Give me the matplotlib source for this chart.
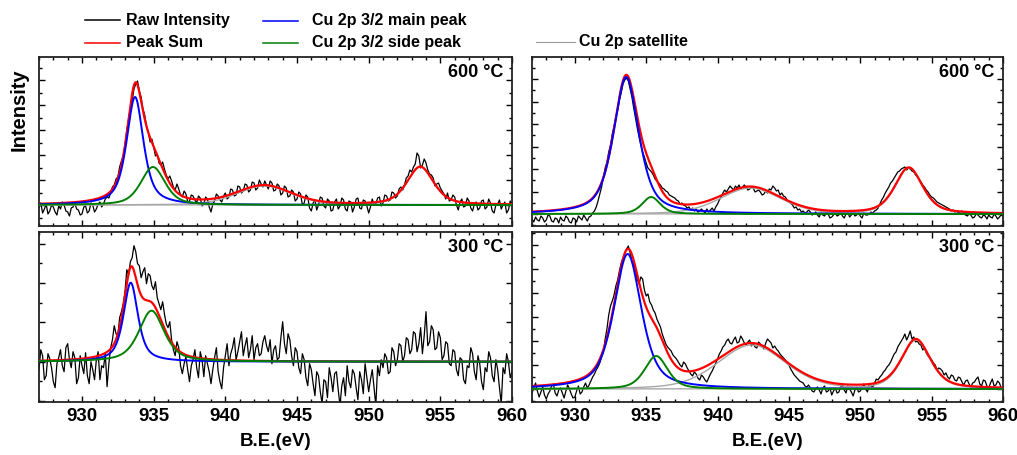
import numpy as np
import matplotlib
matplotlib.use("Agg")
import matplotlib.pyplot as plt
from matplotlib.lines import Line2D
from matplotlib.ticker import MultipleLocator

plt.rcParams["font.family"] = ["Liberation Sans", "DejaVu Sans"]
plt.rcParams["font.weight"] = "bold"

# ---------------------------------------------------------------------------
# Binding-energy grid (eV) shared by all spectra
# ---------------------------------------------------------------------------
BE_START, BE_STOP, BE_STEP = 927.0, 960.0, 0.125

# Raw Cu 2p intensities (a.u., background subtracted), one row per eV
raw_a600 = [
    -3, 2, -8, -4, 1, -9, -6, 0,          -2, -7, -10, -1, -4, 3, 0, -6,
    -7, -11, -3, -2, 2, -4, -5, -10,      -9, -2, -1, -8, -6, 2, 0, -7,
    -4, 1, 3, -2, 1, 6, 8, 7,             12, 18, 20, 26, 28, 38, 44, 49,
    60, 75, 86, 97, 104, 116, 121, 124,   114, 108, 96, 90, 79, 73, 63, 66,
    58, 49, 51, 42, 40, 43, 36, 30,       26, 29, 24, 18, 15, 21, 16, 10,
    8, 14, 11, 3, 4, 10, 9, 5,            2, 9, 7, -1, 1, 8, 6, -2,
    -7, 1, 4, 11, 9, 5, 3, 9,             12, 6, 8, 16, 15, 9, 10, 19,
    18, 12, 14, 21, 20, 13, 15, 23,       22, 15, 17, 25, 21, 18, 24, 20,
    16, 24, 22, 14, 15, 21, 19, 10,       12, 19, 17, 8, 9, 15, 13, 4,
    6, 13, 11, 0, 2, 10, 8, -3,           -6, 2, 5, -5, 0, 8, 7, -1,
    -3, 6, 4, -6, -5, 3, 6, -4,           -1, 7, 5, -4, -6, 4, 3, -7,
    -2, 6, 7, -3, -4, 5, 4, -1,           -8, -2, 6, 0, 1, 7, 8, -1,
    2, 10, 9, 4, 5, 13, 12, 7,            9, 16, 18, 15, 20, 27, 29, 35,
    33, 38, 41, 52, 49, 37, 40, 46,       42, 35, 31, 30, 27, 19, 21, 22,
    17, 14, 11, 6, 12, 4, 5, 10,          8, 0, -5, 3, 6, -2, -1, 7,
    4, -3, -6, 1, 3, -5, -3, 4,           5, -4, -2, 6, 2, -6, -8, 0,
    1, 5, -4, 0, 3, -8, -5, 4,            0,
]
raw_a300 = [
    -8, 12, 6, -18, -14, 8, 3, -6,        -20, -26, -2, 4, 12, -4, -10, 14,
    18, 2, -6, 10, 4, -22, -16, 6,        -4, -12, 9, -14, -22, 0, -8, -18,
    2, 10, -18, -4, -6, 8, -25, -2,       14, 22, 36, 28, 26, 44, 50, 58,
    70, 92, 87, 100, 104, 116, 110, 98,   96, 84, 90, 94, 78, 88, 86, 76,
    72, 80, 64, 58, 52, 60, 48, 38,       34, 40, 22, 12, 6, 20, 14, -4,
    -12, -2, 5, -8, -20, -4, 2, 12,       -6, -16, 10, 2, -15, 6, -2, -10,
    -22, -8, 4, 14, -10, -20, -27, -6,    6, 18, -4, 8, 14, 24, 2, 10,
    20, 30, 6, 16, 24, 4, 12, 26,         2, 14, 18, 6, 8, 20, 26, 16,
    10, 22, -2, 12, 16, 2, 4, 24,         40, 18, 8, 28, 22, 6, -4, 14,
    10, -6, -12, 8, 2, -16, -24, -2,      -8, -22, -34, -10, -14, -30, -42, -18,
    -20, -36, -6, -16, -30, -12, -10, -28, -44, -24, -16, -34, -4, -20, -26, -8,
    -12, -26, -38, -10, -18, -32, -2, -16, -30, -18, -8, -26, -44, -4, -14, 2,
    -6, 8, 4, -12, -10, 14, 10, -4,       2, 18, 16, 0, 6, 24, 22, 8,
    12, 30, 28, 10, 18, 34, 8, 26,        50, 16, 20, 36, 32, 12, 14, 30,
    24, 2, 6, 20, 18, -2, -4, 12,         10, -8, -14, 4, 2, -18, -22, -4,
    -6, 14, 8, -10, -18, 6, -2, -20,      -28, -6, -10, 10, 4, -14, -20, 2,
    -8, -26, -42, -6, -12, 8, 0, -16,     -10,
]
raw_b600 = [
    -5, -8, -3, -6, -7, -2, -4, -8,       -6, -1, -2, -7, -8, -4, -5, -9,
    -3, -6, -7, -2, -4, -8, -9, -4,       -5, -8, -2, -4, -6, -1, -4, -7,
    -3, -2, 1, 3, 7, 13, 20, 27,          37, 46, 52, 62, 69, 80, 88, 97,
    104, 114, 121, 130, 134, 136, 133, 125, 117, 106, 96, 86, 77, 69, 62, 57,
    51, 46, 44, 42, 39, 35, 33, 31,       29, 26, 25, 23, 22, 19, 18, 17,
    16, 14, 13, 10, 11, 9, 8, 6,          7, 4, 6, 3, 5, 2, 3, 5,
    3, 1, 5, 2, 4, 6, 3, 7,               10, 14, 17, 21, 24, 22, 25, 28,
    26, 24, 28, 26, 29, 25, 27, 29,       27, 24, 25, 27, 26, 22, 23, 24,
    22, 19, 20, 23, 21, 25, 24, 28,       26, 23, 24, 19, 21, 18, 17, 14,
    12, 11, 9, 6, 7, 4, 5, 2,             3, 1, 2, 4, 2, -1, 0, 2,
    -1, -3, 1, -1, -2, 1, 0, -4,          -3, -1, 1, -2, -1, 2, -2, -4,
    0, 2, -3, -1, 1, -2, -1, 1,           -2, -4, 1, -1, -1, 0, 2, 1,
    3, 4, 6, 10, 14, 17, 21, 24,          27, 31, 33, 36, 39, 42, 43, 45,
    46, 47, 44, 46, 45, 43, 42, 39,       37, 35, 32, 29, 27, 24, 22, 19,
    17, 16, 14, 12, 11, 10, 9, 8,         7, 6, 5, 3, 4, 2, 3, 1,
    2, 3, 0, -1, -2, 0, -1, -4,           -3, 0, -1, -3, -4, -1, -2, -5,
    -1, -3, -4, 0, -2, -5, -3, -1,        -2,
]
raw_b300 = [
    -4, 1, 6, -2, -8, -3, 2, -6,          -10, -5, -2, 3, 5, -4, -7, -1,
    1, -4, -9, -2, 4, 0, -5, -9,          -8, -2, 3, -5, -3, 2, 6, 1,
    4, 8, 12, 15, 19, 22, 26, 32,         37, 50, 60, 74, 83, 88, 94, 103,
    109, 118, 126, 131, 136, 140, 143, 136, 128, 124, 120, 110, 105, 112, 110, 99,
    93, 95, 87, 84, 79, 76, 70, 66,       62, 55, 50, 45, 42, 40, 38, 34,
    32, 30, 27, 24, 22, 27, 25, 21,       18, 15, 13, 17, 15, 11, 9, 14,
    12, 9, 7, 11, 15, 18, 22, 26,         30, 35, 38, 42, 44, 48, 50, 46,
    45, 49, 52, 46, 47, 53, 50, 46,       44, 47, 49, 43, 46, 42, 41, 47,
    45, 43, 40, 46, 50, 48, 46, 41,       43, 40, 38, 35, 33, 31, 29, 26,
    24, 20, 17, 14, 12, 10, 8, 7,         6, 3, 2, 4, 1, -2, -3, 0,
    2, -1, -5, 1, 3, -3, -2, 1,           -6, -2, 1, -4, -3, 2, 4, -1,
    -4, 3, 0, -3, -7, -1, 2, -3,          -2, 1, 5, 0, -3, 4, 3, 2,
    6, 10, 9, 12, 14, 17, 19, 22,         24, 27, 31, 35, 37, 42, 45, 48,
    51, 55, 49, 53, 58, 50, 52, 47,       48, 45, 44, 39, 41, 36, 33, 31,
    29, 26, 24, 19, 21, 20, 18, 14,       16, 12, 10, 14, 13, 9, 8, 12,
    11, 7, 4, 8, 9, 5, 2, 6,              7, 10, 12, 5, 3, 9, 8, 3,
    1, 6, 10, 3, 4, 8, 6, 1,              2,
]

# Fitted pseudo-Voigt components: (centre eV, height, FWHM eV, Lorentzian fraction)
main_a600 = (933.7, 108, 1.4, 0.7)
side_a600 = (934.95, 38, 2.0, 0.5)
sat_a600 = [(942.7, 19, 4.5, 0.3), (953.6, 38, 2.2, 0.5)]

main_a300 = (933.4, 79, 1.2, 0.7)
side_a300 = (934.85, 51, 2.1, 0.6)
sat_a300 = []

main_b600 = (933.6, 137, 2.1, 0.6)
side_b600 = (935.35, 17, 1.5, 0.5)
sat_b600 = [(942.3, 26, 5.0, 0.3), (953.4, 46, 2.3, 0.5)]

main_b300 = (933.7, 135, 2.3, 0.6)
side_b300 = (935.7, 33, 1.9, 0.5)
sat_b300 = [(942.4, 44, 5.6, 0.3), (953.9, 49, 2.4, 0.5)]

temperatures = ["600 °C", "300 °C"]
legend_labels = ["Raw Intensity", "Peak Sum", "Cu 2p 3/2 main peak",
                 "Cu 2p 3/2 side peak", "Cu 2p satellite"]

C_RAW, C_SUM, C_MAIN, C_SIDE, C_SAT = "black", "#ff0000", "#0000ff", "#008000", "#a8a8a8"


def pseudo_voigt(x, peak):
    centre, height, fwhm, eta = peak
    u = (x - centre) / (fwhm / 2.0)
    return height * (eta / (1.0 + u ** 2) + (1.0 - eta) * np.exp(-np.log(2.0) * u ** 2))


energy = np.arange(BE_START, BE_STOP + BE_STEP / 2, BE_STEP)
fine = np.linspace(BE_START, BE_STOP, 1200)

W, H = 1017, 455
fig = plt.figure(figsize=(W / 100, H / 100), dpi=100)


def frac_box(left, top, right, bottom):
    return [left / W, 1 - bottom / H, (right - left) / W, (bottom - top) / H]


panels = [
    # raw, main, side, satellites, ylim, y tick step, box(px), temp label, x labels
    (raw_a600, main_a600, side_a600, sat_a600, (-21, 148), 25.0, (39, 57, 512, 226), 0, False),
    (raw_a300, main_a300, side_a300, sat_a300, (-40.3, 129.7), 39.3, (39, 232, 512, 402), 1, True),
    (raw_b600, main_b600, side_b600, sat_b600, (-12, 157), 22.5, (532, 57, 1003, 226), 0, False),
    (raw_b300, main_b300, side_b300, sat_b300, (-13, 157), 24.0, (532, 232, 1003, 402), 1, True),
]

for raw, main, side, sats, ylim, ystep, box, t_idx, xlab in panels:
    ax = fig.add_axes(frac_box(*box))
    ax.plot(energy, raw, color=C_RAW, lw=0.9, zorder=2)
    main_c = pseudo_voigt(fine, main)
    side_c = pseudo_voigt(fine, side)
    total = main_c + side_c
    for s in sats:
        sc = pseudo_voigt(fine, s)
        total = total + sc
        ax.plot(fine, sc, color=C_SAT, lw=1.0, zorder=3)
    ax.plot(fine, total, color=C_SUM, lw=1.6, zorder=4)
    ax.plot(fine, main_c, color=C_MAIN, lw=1.4, zorder=5)
    ax.plot(fine, side_c, color=C_SIDE, lw=1.4, zorder=6)

    ax.set_xlim(BE_START, BE_STOP)
    ax.set_ylim(*ylim)
    ax.xaxis.set_major_locator(MultipleLocator(5))
    ax.xaxis.set_minor_locator(MultipleLocator(1))
    ax.yaxis.set_major_locator(MultipleLocator(ystep))
    ax.yaxis.set_minor_locator(MultipleLocator(ystep / 2))
    ax.tick_params(which="both", direction="in", top=True, right=True,
                   labelleft=False, labelbottom=xlab, width=1.0, pad=4,
                   labelsize=13.5)
    ax.tick_params(which="major", length=4.5)
    ax.tick_params(which="minor", length=2.5)
    for lab in ax.get_xticklabels():
        lab.set_fontweight("bold")
    for sp in ax.spines.values():
        sp.set_linewidth(1.3)
        sp.set_color("#222222")
    ax.text(1 - 9 / (box[2] - box[0]), 1 - 7 / (box[3] - box[1]), temperatures[t_idx],
            transform=ax.transAxes, ha="right", va="top", fontsize=13,
            fontweight="bold")

# Axis titles
fig.text(275.5 / W, 1 - 441 / H, "B.E.(eV)", ha="center", va="center",
         fontsize=13.5, fontweight="bold")
fig.text(767.5 / W, 1 - 441 / H, "B.E.(eV)", ha="center", va="center",
         fontsize=13.5, fontweight="bold")
fig.text(19.5 / W, 1 - 110 / H, "Intensity", ha="center", va="center",
         rotation=90, fontsize=14.5, fontweight="bold")

# Legend drawn in figure pixels
legend_items = [
    (legend_labels[0], C_RAW, 1.1, 85, 120, 20, 126),
    (legend_labels[1], C_SUM, 1.1, 85, 120, 42.5, 126),
    (legend_labels[2], C_MAIN, 1.1, 263, 298, 20.5, 312),
    (legend_labels[3], C_SIDE, 1.1, 263, 298, 42.5, 312),
    (legend_labels[4], "#999999", 0.8, 536, 575, 41.5, 579),
]
for label, color, lw, x0, x1, y, xt in legend_items:
    fig.add_artist(Line2D([x0 / W, x1 / W], [1 - y / H, 1 - y / H],
                          color=color, lw=lw, transform=fig.transFigure))
    fig.text(xt / W, 1 - y / H, label, ha="left", va="center",
             fontsize=11.5, fontweight="bold")

fig.savefig("out.png", dpi=100)
